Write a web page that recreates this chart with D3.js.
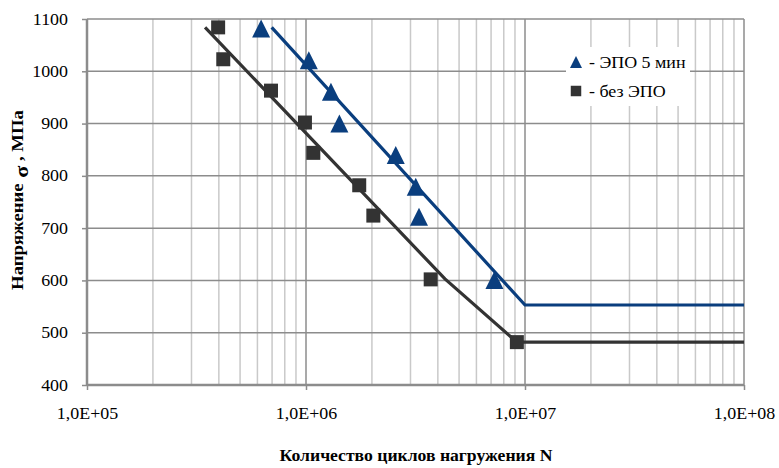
<!DOCTYPE html>
<html><head><meta charset="utf-8">
<script src="https://cdn.jsdelivr.net/npm/d3@7"></script>
<style>body{margin:0;background:#fff}</style>
</head><body>
<svg id="c" width="779" height="468"></svg>
<script>
// ---- data ----
const xTicks = [1e5, 1e6, 1e7, 1e8];
const xTickLabels = ["1,0E+05", "1,0E+06", "1,0E+07", "1,0E+08"];
const yTicks = [400, 500, 600, 700, 800, 900, 1000, 1100];

// series "- ЭПО 5 мин" (triangles)
const epoN = [6.24e5, 1.03e6, 1.30e6, 1.42e6, 2.57e6, 3.17e6, 3.28e6, 7.25e6];
const epoS = [1082, 1021, 961, 900, 840, 779, 722, 601];
// series "- без ЭПО" (squares)
const noN = [3.97e5, 4.19e5, 6.92e5, 9.89e5, 1.08e6, 1.75e6, 2.03e6, 3.71e6, 9.18e6];
const noS = [1084, 1023, 963, 902, 844, 782, 724, 602, 482];
// fitted curves
const epoFitN = [6.97e5, 1.0e7, 1.0e8];
const epoFitS = [1084, 553, 553];
const noFitN = [3.46e5, 4.31e6, 9.18e6, 1.0e8];
const noFitS = [1084, 603, 482, 482];

const seriesNames = ["- ЭПО 5 мин", "- без ЭПО"];
const xTitle = "Количество циклов нагружения N";

// ---- chart ----
const FONT = "'Liberation Serif'";
const SX = 1.12; // horizontal stretch of the reference's text
const svg = d3.select("#c");
const L = 87, R = 744, T = 19, B = 385;
const x = d3.scaleLog().domain([1e5, 1e8]).range([L, R]);
const y = d3.scaleLinear().domain([400, 1100]).range([B, T]);
const blue = "#0a3e7e", dark = "#333333";
const major = "#8c8c8c", minor = "#c9c9c9";

function stretch(sel, sx) {
  sel.each(function () {
    const t = d3.select(this);
    const ax = +t.attr("x") || 0, ay = +t.attr("y") || 0;
    t.attr("transform", `translate(${ax},${ay}) scale(${sx},1) translate(${-ax},${-ay})`);
  });
}
const triPath = (w, h) => `M0,${-h / 2}L${w / 2},${h / 2}L${-w / 2},${h / 2}Z`;

const minorVals = [];
for (let e = 5; e < 8; e++) for (let m = 2; m <= 9; m++) minorVals.push(m * Math.pow(10, e));
svg.append("g").selectAll("line").data(minorVals).join("line")
  .attr("x1", d => x(d)).attr("x2", d => x(d)).attr("y1", T).attr("y2", B)
  .attr("stroke", minor).attr("stroke-width", 1.5);
svg.append("g").selectAll("line").data(xTicks.slice(1)).join("line")
  .attr("x1", d => x(d)).attr("x2", d => x(d)).attr("y1", T).attr("y2", B)
  .attr("stroke", major).attr("stroke-width", 1.5);
svg.append("g").selectAll("line").data(yTicks.slice(1)).join("line")
  .attr("x1", L).attr("x2", R).attr("y1", d => y(d)).attr("y2", d => y(d))
  .attr("stroke", major).attr("stroke-width", 1.5);

const xAxis = d3.axisBottom(x).tickValues(xTicks).tickFormat((d, i) => xTickLabels[i]).tickSize(5).tickPadding(18);
const gx = svg.append("g").attr("transform", `translate(0,${B})`).call(xAxis);
gx.select(".domain").attr("stroke", major).attr("stroke-width", 2.5).attr("d", `M${L},0H${R}`);
gx.selectAll(".tick line").attr("stroke", major).attr("stroke-width", 1.5);
gx.selectAll(".tick text").style("font-family", FONT).style("font-size", "16px").attr("fill", "#000").call(stretch, SX);

const yAxis = d3.axisLeft(y).tickValues(yTicks).tickFormat(d3.format("d")).tickSize(5).tickPadding(14);
const gy = svg.append("g").attr("transform", `translate(${L},0)`).call(yAxis);
gy.select(".domain").attr("stroke", major).attr("stroke-width", 2.5).attr("d", `M0,${T}V${B}`);
gy.selectAll(".tick line").attr("stroke", major).attr("stroke-width", 1.5);
gy.selectAll(".tick text").style("font-family", FONT).style("font-size", "16px").attr("fill", "#000").call(stretch, SX);

const line = d3.line().x(d => x(d[0])).y(d => y(d[1]));
svg.append("path").datum(noFitN.map((n, i) => [n, noFitS[i]]))
  .attr("d", line).attr("fill", "none").attr("stroke", dark).attr("stroke-width", 3.2);
svg.append("path").datum(epoFitN.map((n, i) => [n, epoFitS[i]]))
  .attr("d", line).attr("fill", "none").attr("stroke", blue).attr("stroke-width", 3.2);

const sq = d3.symbol().type(d3.symbolSquare).size(196);
svg.append("g").selectAll("path").data(noN.map((n, i) => [n, noS[i]])).join("path")
  .attr("d", sq).attr("transform", d => `translate(${x(d[0])},${y(d[1])})`).attr("fill", dark);
svg.append("g").selectAll("path").data(epoN.map((n, i) => [n, epoS[i]])).join("path")
  .attr("d", triPath(18, 18)).attr("transform", d => `translate(${x(d[0])},${y(d[1])})`).attr("fill", blue);

const lg = svg.append("g");
lg.append("rect").attr("x", 566).attr("y", 47).attr("width", 124).attr("height", 59).attr("fill", "#fff");
lg.append("path").attr("d", triPath(12, 12)).attr("transform", "translate(576,62)").attr("fill", blue);
lg.append("path").attr("d", d3.symbol().type(d3.symbolSquare).size(110)).attr("transform", "translate(576,91)").attr("fill", dark);
lg.append("text").attr("x", 589).attr("y", 68).text(seriesNames[0]);
lg.append("text").attr("x", 589).attr("y", 97).text(seriesNames[1]);
lg.selectAll("text").style("font-family", FONT).style("font-size", "16px").attr("fill", "#000").call(stretch, SX);

const xt = svg.append("text").attr("x", 416).attr("y", 461).attr("text-anchor", "middle")
  .style("font-family", FONT).style("font-size", "16px").style("font-weight", "bold").attr("fill", "#000").text(xTitle);
stretch(xt, 273 / xt.node().getComputedTextLength());

const yt = svg.append("text").attr("text-anchor", "middle")
  .style("font-family", FONT).style("font-size", "16px").style("font-weight", "bold").attr("fill", "#000");
yt.append("tspan").text("Напряжение");
yt.append("tspan").attr("dy", 5).style("font-size", "19px").text(" σ");
yt.append("tspan").attr("dy", -5).text(" , МПа");
const ysx = 180 / yt.node().getComputedTextLength();
yt.attr("transform", `translate(23,200) rotate(-90) scale(${ysx},1)`);
</script></body></html>
